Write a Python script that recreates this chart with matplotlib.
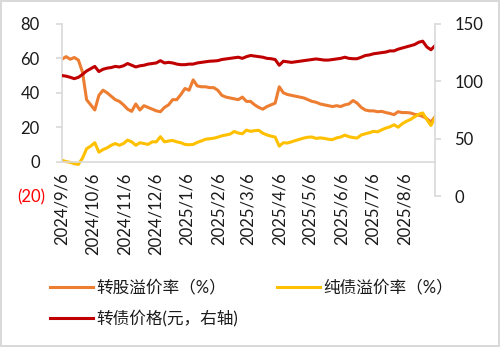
import numpy as np
import pandas as pd
import matplotlib
matplotlib.use("Agg")
import matplotlib.pyplot as plt
import matplotlib.dates as mdates
from matplotlib.ticker import FixedLocator, FuncFormatter
from matplotlib.transforms import ScaledTranslation

plt.rcParams['font.family'] = ['Lato', 'Noto Sans CJK SC', 'DejaVu Sans']

# sampling grid, every 4 days from 2024/9/6
dates = pd.date_range('2024-09-06', periods=92, freq='4D')

# 转股溢价率 (%)
conv_premium = [
    59.5, 61, 59.5, 60.5, 59, 52, 36, 33, 30, 38.5,
    41.5, 40, 38, 36, 35, 33, 30.5, 29.2, 33.5, 30,
    32.5, 31.5, 30.5, 29.5, 29, 31.5, 33, 36, 36, 39,
    42.5, 41.5, 47.5, 44, 43.5, 43.5, 43, 43, 41.5, 38.5,
    37.5, 37, 36.5, 36, 37.5, 35, 35, 33, 31.5, 30.5,
    32, 33, 34, 43.5, 40, 39, 38.5, 38, 37.5, 37,
    36, 35, 34.5, 33.5, 33, 32.5, 32, 32.5, 32, 33,
    33.5, 35.5, 34, 31.5, 30, 29.5, 29.5, 29, 29.2, 28.5,
    28, 27.3, 29, 28.5, 28.5, 28.3, 27.5, 27, 26.3, 25,
    23, 26,
]

# 纯债溢价率 (%)
bond_premium = [
    0.8, 0, -0.4, -1.2, -1.6, 2, 7.5, 9, 11, 5.5,
    7, 8, 9.5, 10.5, 9.5, 10.5, 12.5, 11.5, 9.5, 11,
    10.5, 10, 11.5, 11.5, 14.5, 11.5, 12, 12.3, 11.5, 11,
    10, 9.8, 10, 11.2, 12, 13, 13.3, 13.6, 14.2, 15,
    15.5, 16, 17.5, 16.6, 16.2, 18.3, 17.6, 18, 18.2, 16.5,
    15.5, 14.8, 14.3, 9, 11, 10.8, 11.5, 12.3, 13, 13.7,
    14.2, 14.3, 13.5, 13.8, 13.5, 13, 12.8, 13.8, 14.3, 15.4,
    14.5, 14, 13.7, 15.5, 16.2, 16.8, 17.6, 17.3, 18.5, 19.5,
    20.2, 21.4, 20, 22, 23.4, 24.5, 26, 27.5, 28.3, 24.5,
    21, 25.5,
]

# 转债价格 (元, 右轴)
cb_price = [
    105, 104.5, 103.5, 102.3, 103.5, 106, 109, 111, 113, 108.5,
    110.5, 111.5, 112, 113, 112.5, 113.5, 115.5, 114, 112.5, 113.5,
    114, 115, 115.5, 116, 118, 116, 116.5, 116, 115, 114.5,
    114.5, 115, 115, 116, 116.5, 117, 117.5, 117.7, 118, 119,
    119.5, 120, 120.5, 121, 120, 121.5, 122.5, 122, 121.5, 121,
    120, 119.7, 119, 114, 117.5, 117, 116.5, 117, 117.5, 118,
    118.5, 119, 119.5, 119, 118.5, 118.5, 119, 119.5, 120, 121,
    120, 119.7, 119.7, 121, 122.5, 123, 124, 124.5, 125, 125.5,
    126.5, 126.5, 128, 129, 130, 131, 132, 134, 135, 130,
    127.5, 131,
]

tick_dates = pd.date_range('2024-09-01', periods=12, freq='MS') + pd.Timedelta(days=5)
left_ticks = [-20, 0, 20, 40, 60, 80]
right_ticks = [0, 50, 100, 150]

c_conv = '#ED7D31'
c_bond = '#FFC000'
c_price = '#C00000'
grey = '#D9D9D9'
txt = '#1a1a1a'

fig = plt.figure(figsize=(5, 3.47), dpi=100, linewidth=1.5, edgecolor=grey)
ax = fig.add_axes([0.124, 0.435, 0.746, 0.496])
ax2 = ax.twinx()

l1, = ax.plot(dates, conv_premium, color=c_conv, lw=2.2, label='转股溢价率（%）')
l2, = ax.plot(dates, bond_premium, color=c_bond, lw=2.2, label='纯债溢价率（%）')
l3, = ax2.plot(dates, cb_price, color=c_price, lw=2.2, label='转债价格(元，右轴)')

ax.set_xlim(dates[0], dates[-1])
ax.set_ylim(-20, 80)
ax2.set_ylim(0, 150)

for s in ['top', 'right']:
    ax.spines[s].set_visible(False)
for s in ['top', 'left', 'bottom']:
    ax2.spines[s].set_visible(False)
ax.spines['left'].set_color(grey)
ax.spines['left'].set_linewidth(1.2)
ax.spines['left'].set_bounds(0, 80)
ax.spines['bottom'].set_position(('data', 0))
ax.spines['bottom'].set_color(grey)
ax.spines['bottom'].set_linewidth(1.2)
ax2.spines['right'].set_color(grey)
ax2.spines['right'].set_linewidth(1.2)

ax.xaxis.set_major_locator(FixedLocator(mdates.date2num(tick_dates)))
ax.xaxis.set_major_formatter(FuncFormatter(
    lambda v, p: '{0.year}/{0.month}/{0.day}'.format(mdates.num2date(v))))
ax.tick_params(axis='x', length=0, pad=8, labelsize=12, labelrotation=90, labelcolor=txt)

ax.yaxis.set_major_locator(FixedLocator(left_ticks))
ax.yaxis.set_major_formatter(FuncFormatter(
    lambda v, p: '({:d})'.format(int(-v)) if v < 0 else '{:d}'.format(int(v))))
ax.tick_params(axis='y', length=4, width=1.2, color=grey, pad=12, labelsize=12, labelcolor=txt)

ax2.yaxis.set_major_locator(FixedLocator(right_ticks))
ax2.tick_params(axis='y', length=4, width=1.2, color=grey, pad=10, labelsize=12, labelcolor=txt)

fig.legend([l1, l3, l2], [l1.get_label(), l3.get_label(), l2.get_label()],
           ncol=2, loc='upper left', bbox_to_anchor=(0.1, 0.195),
           frameon=False, fontsize=12, handlelength=2.6, handletextpad=0.2,
           columnspacing=2.3, labelspacing=0.85, borderpad=0, borderaxespad=0,
           labelcolor=txt)

# red "(20)" label with no tick mark
fig.canvas.draw()
for tick in ax.yaxis.get_major_ticks():
    if tick.label1.get_text().startswith('('):
        tick.tick1line.set_visible(False)
        tick.label1.set_color('#FF0000')
        tick.label1.set_transform(tick.label1.get_transform()
                                  + ScaledTranslation(4 / 72, 0, fig.dpi_scale_trans))

fig.savefig('out.png', dpi=100, edgecolor=fig.get_edgecolor())
